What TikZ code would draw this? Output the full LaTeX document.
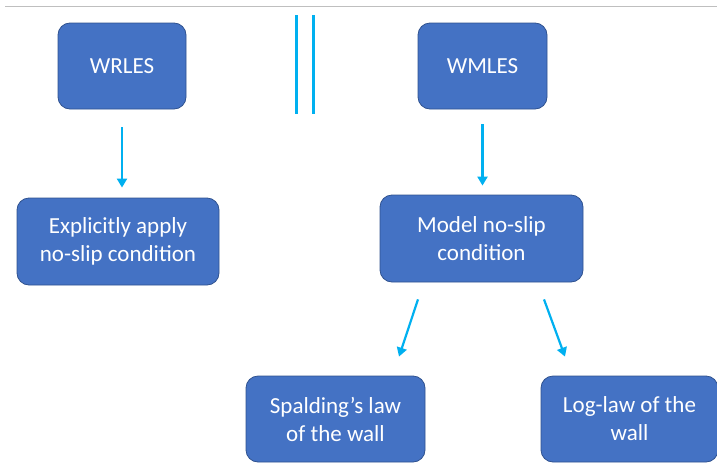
\documentclass[tikz,border=0pt]{standalone}
\usepackage{fontspec}
\setmainfont{Carlito}
\usetikzlibrary{arrows.meta}
\definecolor{boxfill}{HTML}{4472C4}
\definecolor{boxline}{HTML}{2F528F}
\definecolor{arrowc}{HTML}{00B0F0}
\begin{document}
\begin{tikzpicture}[x=1pt,y=-1pt,
  box/.style={draw=boxline,line width=0.8pt,fill=boxfill,rounded corners=12pt,text=white,
    font=\fontsize{23}{28}\selectfont,align=center,inner sep=0pt},
  conn/.style={draw=arrowc,line width=2.2pt,-{Triangle[length=9pt,width=10pt]}}]
\useasboundingbox (0,0) rectangle (717,466);
\draw[gray!50,line width=1pt] (5,6) -- (717,6);
\node[box,minimum width=128pt,minimum height=86pt] (wr) at (122,66) {WRLES};
\node[box,minimum width=129pt,minimum height=86pt] (wm) at (482.5,66) {WMLES};
\node[box,minimum width=202pt,minimum height=87pt] (ex) at (118,241.5) {Explicitly apply\\no-slip condition};
\node[box,minimum width=203pt,minimum height=87pt] (mo) at (481.5,238.5) {Model no-slip\\condition};
\node[box,minimum width=179pt,minimum height=86pt] (sp) at (335.5,419) {Spalding’s law\\of the wall};
\node[box,minimum width=177pt,minimum height=86pt] (lg) at (629.5,419) {Log-law of the\\wall};
\coordinate (v1a) at (296,15); \coordinate (v1b) at (296,114);
\coordinate (v2a) at (313,15); \coordinate (v2b) at (313,114);
\draw[arrowc,line width=3pt] (v1a) -- (v1b);
\draw[arrowc,line width=3pt] (v2a) -- (v2b);
\draw[conn] ([shift={(0,18)}]wr.south) -- ([shift={(0,-10)}]ex.north -| wr.south);
\draw[conn] ([shift={(0,15)}]wm.south) -- ([shift={(0,-9)}]mo.north -| wm.south);
\draw[conn] ([shift={(-63.5,17)}]mo.south) -- ([shift={(63.5,-19)}]sp.north);
\draw[conn] ([shift={(62.5,17)}]mo.south) -- ([shift={(-64.5,-19)}]lg.north);
\end{tikzpicture}
\end{document}
